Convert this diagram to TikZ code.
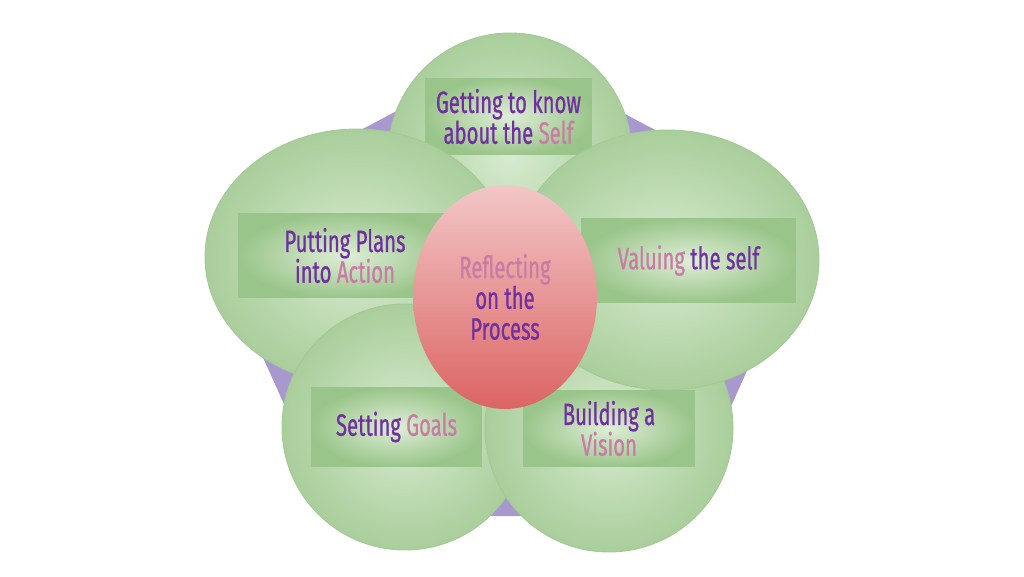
\documentclass[tikz,border=0pt]{standalone}
\usepackage{fontspec}
\setmainfont{Fira Sans}[FakeStretch=0.66, FakeBold=0.7]
\usetikzlibrary{shapes.geometric}
\definecolor{deeppurple}{HTML}{7030A0}
\definecolor{softpink}{HTML}{C97BA6}
\definecolor{lilac}{HTML}{A898CE}
\definecolor{leafin}{HTML}{D7EBD0}
\definecolor{leafout}{HTML}{A9CE9B}
\definecolor{leafedge}{HTML}{A3C995}
\definecolor{boxin}{HTML}{DEEED7}
\definecolor{boxout}{HTML}{9AC58A}
\definecolor{rosetop}{HTML}{F3C7C7}
\definecolor{rosebot}{HTML}{DC6464}
\newcommand{\pk}[1]{\textcolor{softpink}{#1}}

\begin{document}
\begin{tikzpicture}[x=0.02cm, y=0.02cm,
  bubble/.style={inner color=leafin, outer color=leafout, draw=leafedge, line width=0.5pt},
  labelbox/.style={rectangle, inner color=boxin, outer color=boxout, inner sep=0pt,
    align=center, text=deeppurple, font=\fontsize{17.5}{17.5}\selectfont}]
  \useasboundingbox (0,0) rectangle (1024,576);
  % Backing pentagon
  \fill[lilac] (508,524) -- (758,391.5) -- (788,296) -- (681.5,60)
    -- (334.5,60) -- (228,296) -- (258,391.5) -- cycle;
  % Top bubble
  \shade[bubble] (510,421) circle (122);
  \node[labelbox, minimum width=3.34cm, minimum height=1.54cm] (knowself) at (508.5,459.5)
    {Getting to know\\about the \pk{Self}};
  % Left bubble
  \shade[bubble] (357,319) ellipse [x radius=152, y radius=128];
  \node[labelbox, minimum width=4.28cm, minimum height=1.7cm] (plans) at (345,320.5)
    {Putting Plans\\into \pk{Action}};
  % Bottom left bubble
  \shade[bubble] (405,149) circle (123);
  \node[labelbox, minimum width=3.42cm, minimum height=1.6cm] (goals) at (396.5,149)
    {Setting \pk{Goals}};
  % Bottom right bubble
  \shade[bubble] (609,148) circle (124);
  \node[labelbox, minimum width=3.44cm, minimum height=1.54cm] (vision) at (609,147.5)
    {Building a\\\pk{Vision}};
  % Right bubble
  \shade[bubble] (667,316) ellipse [x radius=152, y radius=130];
  \node[labelbox, minimum width=4.3cm, minimum height=1.7cm] (valuing) at (688.5,315.5)
    {\pk{Valuing} the self};
  % Centre
  \node[ellipse, top color=rosetop, bottom color=rosebot, inner sep=0pt,
    minimum width=3.68cm, minimum height=4.48cm, align=center, text=deeppurple,
    font=\fontsize{17.5}{17.5}\selectfont] (reflect) at (505,279)
    {\pk{Reflecting}\\on the\\Process};
\end{tikzpicture}
\end{document}
